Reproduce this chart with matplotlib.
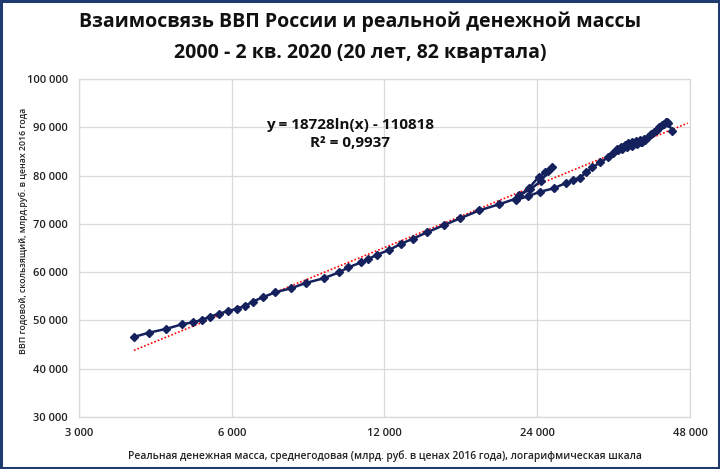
import matplotlib
matplotlib.use("Agg")
import matplotlib.pyplot as plt
from matplotlib.patches import Rectangle
from matplotlib.ticker import FixedLocator, NullLocator
import numpy as np

# Real money supply (bn rub, 2016 prices), quarterly 2000 - 2Q2020
money = [3850, 4120, 4450, 4790, 5035, 5240, 5440, 5676, 5890, 6140,
         6370, 6600, 6906, 7315, 7850, 8395, 9110, 9770, 10190, 10790,
         11155, 11600, 12250, 12940, 13660, 14560, 15690, 16940, 18440, 20190,
         21780, 23130, 24150, 24870, 25680, 25215, 24430, 23240, 22100, 21810,
         23000, 24350, 25880, 27330, 28290, 29120, 30000, 30830, 31980, 33120,
         33920, 34490, 35140, 35770, 36250, 36920, 37600, 38290, 38990, 38640,
         37770, 36920, 36090, 35290, 34650, 35290, 36090, 36920, 37770, 38460,
         39170, 39700, 40250, 40800, 41270, 41730, 42210, 42590, 42980, 43170,
         43500, 44280]
# Rolling annual GDP (bn rub, 2016 prices)
gdp = [46570, 47460, 48225, 49200, 49610, 50090, 50810, 51390, 51950, 52370,
       52990, 53880, 54790, 55830, 56650, 57750, 58725, 59970, 61000, 62000,
       62720, 63590, 64590, 65870, 66930, 68250, 69700, 71170, 72770, 74050,
       75210, 77430, 79700, 80640, 81670, 80840, 78880, 77120, 75980, 74940,
       75710, 76660, 77360, 78460, 79020, 79560, 80680, 81710, 82750, 83780,
       84610, 85500, 85920, 86230, 86640, 86950, 87160, 87370, 87470, 86950,
       86540, 86120, 85810, 85500, 85190, 85610, 86020, 86330, 86640, 86850,
       87370, 87990, 88510, 88920, 89440, 89960, 90370, 90680, 90990, 91090,
       90950, 89130]

trend_a = 18728
trend_b = -110818
trend_x_end = 47500

x_ticks = [3000, 6000, 12000, 24000, 48000]
x_tick_labels = ["3 000", "6 000", "12 000", "24 000", "48 000"]
y_ticks = [30000, 40000, 50000, 60000, 70000, 80000, 90000, 100000]
y_tick_labels = ["30 000", "40 000", "50 000", "60 000", "70 000", "80 000", "90 000", "100 000"]

title_lines = ["Взаимосвязь ВВП России и реальной денежной массы",
               "2000 - 2 кв. 2020 (20 лет, 82 квартала)"]
x_label = "Реальная денежная масса, среднегодовая (млрд. руб. в ценах 2016 года), логарифмическая шкала"
y_label = "ВВП годовой, скользящий, млрд.руб. в ценах 2016 года"
eq_lines = ["y = 18728ln(x) - 110818", "R² = 0,9937"]

plt.rcParams['font.family'] = ['Open Sans', 'DejaVu Sans']

fig = plt.figure(figsize=(7.2, 4.69), dpi=100)
fig.patch.set_facecolor('white')
fig.patches.append(Rectangle((0.002, 0.003), 0.996, 0.994, transform=fig.transFigure,
                             fill=False, edgecolor='#1F3A6E', linewidth=2.2))

ax = fig.add_axes([0.1097, 0.1109, 0.8486, 0.7207])
ax.set_xscale('log', base=2)
ax.set_xlim(3000, 48000)
ax.set_ylim(30000, 100000)

ax.xaxis.set_major_locator(FixedLocator(x_ticks))
ax.xaxis.set_minor_locator(NullLocator())
ax.set_xticklabels(x_tick_labels)
ax.set_yticks(y_ticks)
ax.set_yticklabels(y_tick_labels)
ax.tick_params(length=0, labelsize=8, pad=8, colors='#222222')
for lab in ax.get_xticklabels() + ax.get_yticklabels():
    lab.set_fontweight('semibold')

ax.grid(True, color='#D9D9D9', linewidth=0.9)
ax.set_axisbelow(True)
for s in ax.spines.values():
    s.set_color('#D9D9D9')
    s.set_linewidth(0.9)

# trend line
tx = np.geomspace(min(money), trend_x_end, 200)
ax.plot(tx, trend_a * np.log(tx) + trend_b, linestyle=(0, (1, 1.2)), color='#FF0000',
        linewidth=1.2, zorder=3)

ax.plot(money, gdp, color='#14215C', linewidth=1.8, marker='D', markersize=3.8,
        markerfacecolor='#14215C', markeredgecolor='#14215C', zorder=4)

ax.text(0.4435, 0.865, eq_lines[0], transform=ax.transAxes, ha='center', va='center',
        fontsize=11, fontweight='bold', color='#111111')
ax.text(0.4435, 0.812, eq_lines[1], transform=ax.transAxes, ha='center', va='center',
        fontsize=11, fontweight='bold', color='#111111')

fig.text(0.5, 0.953, title_lines[0], ha='center', va='center', fontsize=14,
         fontweight='bold', color='#111111')
fig.text(0.5, 0.887, title_lines[1], ha='center', va='center', fontsize=14,
         fontweight='bold', color='#111111')

ax.set_xlabel(x_label, fontsize=7.35, fontweight='semibold', labelpad=8, color='#222222')
ax.set_ylabel(y_label, fontsize=6.3, fontweight='semibold', color='#222222')
ax.yaxis.set_label_coords(-0.083, 0.55)

fig.savefig("out.png", dpi=100, facecolor='white')
